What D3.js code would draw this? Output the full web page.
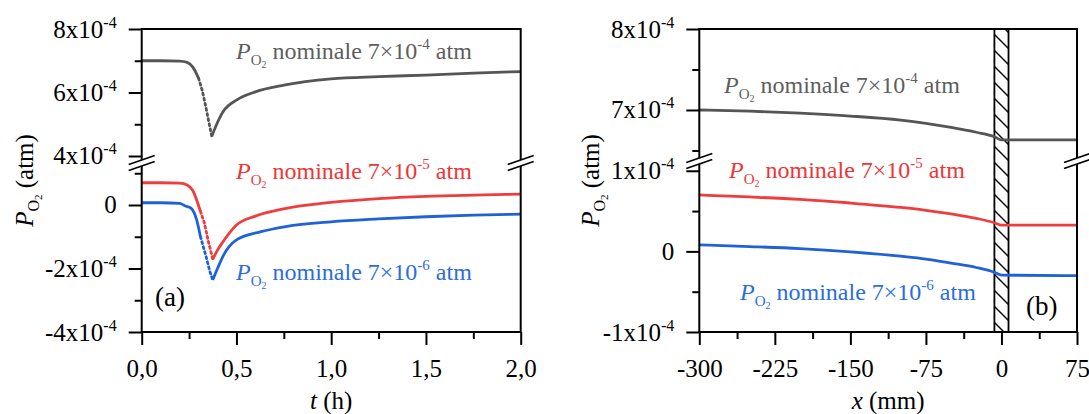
<!DOCTYPE html>
<html><head><meta charset="utf-8">
<script src="https://cdn.jsdelivr.net/npm/d3@7"></script>
</head><body style="margin:0"><svg id="c" width="1089" height="414"></svg>
<script>
// ---- data (pressure values in units of 1e-4 atm) ----
const tGrayA = [0, 0.1, 0.2, 0.24, 0.27, 0.3, 0.32, 0.34, 0.355, 0.37, 0.39, 0.43, 0.5, 0.6, 0.75, 1.0, 1.25, 1.5, 1.75, 2.0];
const grayA  = [7.0, 7.0, 6.99, 6.95, 6.8, 6.45, 6.05, 5.5, 5.05, 4.62, 4.92, 5.4, 5.76, 6.02, 6.23, 6.43, 6.5, 6.55, 6.61, 6.66];
const tRedA  = [0, 0.1, 0.2, 0.24, 0.27, 0.29, 0.31, 0.33, 0.35, 0.375, 0.4, 0.43, 0.5, 0.6, 0.75, 1.0, 1.25, 1.5, 1.75, 2.0];
const redA   = [0.70, 0.70, 0.69, 0.63, 0.45, 0.16, -0.20, -0.55, -1.10, -1.71, -1.42, -1.15, -0.63, -0.35, -0.12, 0.08, 0.20, 0.27, 0.31, 0.34];
const tBlueA = [0, 0.1, 0.2, 0.23, 0.26, 0.29, 0.31, 0.34, 0.36, 0.375, 0.4, 0.43, 0.5, 0.63, 0.76, 1.0, 1.25, 1.5, 1.75, 2.0];
const blueA  = [0.07, 0.07, 0.05, -0.03, -0.10, -0.47, -1.00, -1.63, -2.10, -2.36, -2.00, -1.60, -1.10, -0.84, -0.68, -0.53, -0.44, -0.37, -0.32, -0.29];
// index range of the steep (sparsely sampled, dotted-looking) descent in each series
const dropGray = [5, 9], dropRed = [6, 9], dropBlue = [6, 9];

const xPos   = [-300, -250, -200, -150, -100, -75, -50, -25, -7, 0, 75];
const grayB  = [7.00, 6.985, 6.96, 6.925, 6.875, 6.835, 6.785, 6.725, 6.67, 6.63, 6.63];
const redB   = [0.70, 0.675, 0.645, 0.60, 0.545, 0.51, 0.465, 0.41, 0.355, 0.325, 0.325];
const blueB  = [0.08, 0.06, 0.035, -0.005, -0.06, -0.095, -0.145, -0.20, -0.26, -0.295, -0.30];

const membrane = [-7, 7];

const tTicks = [0, 0.5, 1, 1.5, 2];
const tMinor = [0.25, 0.75, 1.25, 1.75];
const xTicks = [-300, -225, -150, -75, 0, 75];
const xMinor = [-262.5, -187.5, -112.5, -37.5, 37.5];

const yAupTicks = [8, 6, 4];       const yAupMinor = [7, 5];
const yAloTicks = [0, -2, -4];     const yAloMinor = [1, -1, -3];
const yBupTicks = [8, 7];          const yBupMinor = [7.5, 6.5];
const yBloTicks = [1, 0, -1];      const yBloMinor = [0.5, -0.5];

const series = ["7×10", "7×10", "7×10"];
const seriesExp = ["-4", "-5", "-6"];
const colors = {gray:"#555555", red:"#f03c3c", blue:"#1f62d8"};
const textColors = {gray:"#5e5e5e", red:"#ef3535", blue:"#2a6de0"};

// ---- layout ----
const FONT = '"Liberation Serif", "Times New Roman", Tinos, monospace';
const svg = d3.select("#c");
const A = {l:141.7, r:520.7, t:29, b:332, brk:163};
const B = {l:699.3, r:1077, t:29, b:332, brk:161};

const xA = d3.scaleLinear().domain([0, 2]).range([A.l, A.r]);
const yAup = d3.scaleLinear().domain([3.874, 8]).range([160, A.t]);
const yAlo = d3.scaleLinear().domain([-4, 1.228]).range([A.b, 166]);
const xB = d3.scaleLinear().domain([-300, 75]).range([B.l, B.r]);
const yBup = d3.scaleLinear().domain([6.407, 8]).range([158, B.t]);
const yBlo = d3.scaleLinear().domain([-1, 1.084]).range([B.b, 164]);

const FS = 25;

const defs = svg.append("defs");
const pat = defs.append("pattern").attr("id","hatch").attr("patternUnits","userSpaceOnUse")
  .attr("width", 16).attr("height", 16);
pat.append("path").attr("d","M-4,-4 L20,20 M-4,12 L4,20 M12,-4 L20,4").attr("stroke","#000").attr("stroke-width",1.4);

function txt(sel) { return sel.style("font-family", FONT); }

function path(x, y, xs, ys, col, curve, dash) {
  const p = svg.append("path")
    .attr("d", d3.line().curve(curve).x((d,i)=>x(xs[i])).y((d,i)=>y(ys[i]))(ys))
    .attr("fill","none").attr("stroke", col).attr("stroke-width", 2.8).attr("stroke-linejoin","round");
  if (dash) p.attr("stroke-dasharray", dash).attr("stroke-linecap","round");
}
function line(x, y, xs, ys, col, drop) {
  if (!drop) { path(x, y, xs, ys, col, d3.curveMonotoneX); return; }
  const [s, m] = drop;
  path(x, y, xs.slice(0, s + 1), ys.slice(0, s + 1), col, d3.curveMonotoneX);
  path(x, y, xs.slice(s, m + 1), ys.slice(s, m + 1), col, d3.curveLinear, "2,3.2");
  path(x, y, xs.slice(m), ys.slice(m), col, d3.curveMonotoneX);
}

function yTicks(ax, scale, major, minor) {
  [[major,13],[minor,7]].forEach(([vals,len]) =>
    svg.append("g").attr("transform",`translate(${ax},0)`)
      .call(d3.axisLeft(scale).tickValues(vals).tickSize(len).tickFormat(""))
      .call(g=>g.select(".domain").remove())
      .call(g=>g.selectAll("line").attr("stroke","#000").attr("stroke-width",2)));
}
function yLabels(ax, scale, vals, exp) {
  vals.forEach(v => {
    const t = txt(svg.append("text")).attr("x", ax - 25).attr("y", scale(v) + 8.5)
      .attr("text-anchor","end").attr("font-size", FS).attr("fill","#000");
    if (v === 0) { t.text("0"); return; }
    t.append("tspan").text(v + "x10");
    t.append("tspan").attr("font-size", 16).attr("dy", -10).text("-" + exp);
  });
}
function xAxis(scale, major, minor, fmt) {
  const g = svg.append("g").attr("transform",`translate(0,${A.b})`)
    .call(d3.axisBottom(scale).tickValues(major).tickSize(13).tickPadding(14).tickFormat(fmt));
  g.attr("font-family", null).attr("font-size", null);
  g.select(".domain").remove();
  g.selectAll("line").attr("stroke","#000").attr("stroke-width",2);
  g.selectAll("text").attr("font-size",FS).style("font-family",FONT).attr("fill","#000");
  svg.append("g").attr("transform",`translate(0,${A.b})`)
    .call(d3.axisBottom(scale).tickValues(minor).tickSize(7).tickFormat(""))
    .call(g=>g.select(".domain").remove())
    .call(g=>g.selectAll("line").attr("stroke","#000").attr("stroke-width",2));
}
function frame(P) {
  svg.append("rect").attr("x",P.l).attr("y",P.t).attr("width",P.r-P.l).attr("height",P.b-P.t)
    .attr("fill","none").attr("stroke","#000").attr("stroke-width",2);
}
function brk(cx, cy) {
  const dx = 13, dy = 4.5, off = 3;
  svg.append("path")
    .attr("d",`M${cx-dx},${cy+dy-off} L${cx+dx},${cy-dy-off} L${cx+dx},${cy-dy+off} L${cx-dx},${cy+dy+off} Z`)
    .attr("fill","#fff");
  [-off, off].forEach(o => svg.append("line")
    .attr("x1",cx-dx).attr("y1",cy+dy+o).attr("x2",cx+dx).attr("y2",cy-dy+o)
    .attr("stroke","#000").attr("stroke-width",1.6));
}
function seriesLabel(x, y, i, col) {
  const t = txt(svg.append("text")).attr("x", x).attr("y", y).attr("font-size", 24).attr("fill", col);
  t.append("tspan").attr("font-style","italic").text("P");
  t.append("tspan").attr("font-size", 15).attr("dy", 6).text("O");
  t.append("tspan").attr("font-size", 10).attr("dy", 3).text("2");
  t.append("tspan").attr("dy", -9).text(" nominale " + series[i]);
  t.append("tspan").attr("font-size", 15).attr("dy", -10).text(seriesExp[i]);
  t.append("tspan").attr("dy", 10).text(" atm");
}
function yTitle(x, y) {
  const t = txt(svg.append("text")).attr("transform",`translate(${x},${y}) rotate(-90)`)
    .attr("text-anchor","middle").attr("font-size", FS).attr("fill","#000");
  t.append("tspan").attr("font-style","italic").text("P");
  t.append("tspan").attr("font-size", 16).attr("dy", 6).text("O");
  t.append("tspan").attr("font-size", 11).attr("dy", 3).text("2");
  t.append("tspan").attr("dy", -9).text(" (atm)");
}

// ---- panel (a) ----
line(xA, yAup, tGrayA, grayA, colors.gray, dropGray);
line(xA, yAlo, tRedA, redA, colors.red, dropRed);
line(xA, yAlo, tBlueA, blueA, colors.blue, dropBlue);
frame(A);
yTicks(A.l, yAup, yAupTicks, yAupMinor);
yTicks(A.l, yAlo, yAloTicks, yAloMinor);
yLabels(A.l, yAup, yAupTicks, 4);
yLabels(A.l, yAlo, yAloTicks, 4);
xAxis(xA, tTicks, tMinor, d => d3.format(".1f")(d).replace(".", ","));
brk(A.l, A.brk); brk(A.r, A.brk);
seriesLabel(236, 59, 0, textColors.gray);
seriesLabel(236, 179, 1, textColors.red);
seriesLabel(236, 280, 2, textColors.blue);
txt(svg.append("text")).attr("x",155).attr("y",306).attr("font-size",27).text("(a)");
yTitle(33, 180.5);
const tt = txt(svg.append("text")).attr("x",(A.l+A.r)/2).attr("y",409).attr("text-anchor","middle").attr("font-size",FS);
tt.append("tspan").attr("font-style","italic").text("t");
tt.append("tspan").text(" (h)");

// ---- panel (b) ----
svg.append("rect").attr("x",xB(membrane[0])).attr("y",B.t).attr("width",xB(membrane[1])-xB(membrane[0]))
  .attr("height",B.b-B.t).attr("fill","url(#hatch)").attr("stroke","#000").attr("stroke-width",1.8);
line(xB, yBup, xPos, grayB, colors.gray);
line(xB, yBlo, xPos, redB, colors.red);
line(xB, yBlo, xPos, blueB, colors.blue);
frame(B);
yTicks(B.l, yBup, yBupTicks, yBupMinor);
yTicks(B.l, yBlo, yBloTicks, yBloMinor);
yLabels(B.l, yBup, yBupTicks, 4);
yLabels(B.l, yBlo, yBloTicks, 4);
xAxis(xB, xTicks, xMinor, d => String(d));
brk(B.l, B.brk); brk(B.r, B.brk);
seriesLabel(724, 93, 0, textColors.gray);
seriesLabel(729, 178, 1, textColors.red);
seriesLabel(740, 300, 2, textColors.blue);
txt(svg.append("text")).attr("x",1026).attr("y",315).attr("font-size",27).text("(b)");
yTitle(599, 180.5);
const xt = txt(svg.append("text")).attr("x",(B.l+B.r)/2).attr("y",409).attr("text-anchor","middle").attr("font-size",FS);
xt.append("tspan").attr("font-style","italic").text("x");
xt.append("tspan").text(" (mm)");
</script></body></html>
